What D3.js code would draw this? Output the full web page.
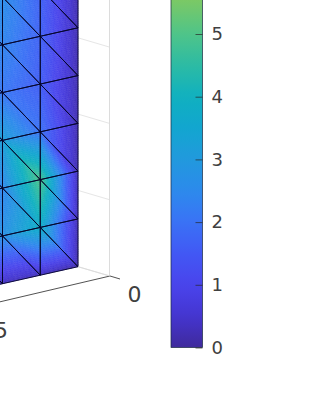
<!DOCTYPE html>
<html>
<head>
<meta charset="utf-8">
<script src="https://cdn.jsdelivr.net/npm/d3@7"></script>
<style>
html, body { margin: 0; padding: 0; background: #fff; }
svg { display: block; font-family: "DejaVu Sans", sans-serif; }
</style>
</head>
<body>
<svg width="315" height="420"></svg>
<script>
// node values, bottom row first, one list per mesh column (left to right)
var col0 = [0.2, 2.6, 2.6, 2.6, 2.6, 2.6, 2.6],
    col1 = [0.3, 2.7, 2.4, 3.2, 2.1, 2.4, 2.6],
    col2 = [0.3, 3.8, 5.0, 2.0, 1.6, 1.7, 1.7],
    col3 = [0.1, 0.2, 0.2, 0.2, 0.2, 0.2, 0.2];
var columns = [col0, col1, col2, col3];

var zTicks = [0, 1, 2, 3];
var cbTicks = [0, 1, 2, 3, 4, 5];
var xLabels = ["0", "5"];

// colour map
var mapValues = [0, 0.5, 1, 1.5, 2, 2.5, 3, 3.5, 4, 4.5, 5, 5.55];
var mapColors = ["#3f2a9c", "#4435d0", "#4a44ec", "#4258f4", "#3a72f6", "#2c8aec",
                 "#2199dd", "#12a6d0", "#10b0c0", "#2cbba4", "#4fc489", "#7cc964"];

var svg = d3.select("svg");

var color = d3.scaleLinear().domain(mapValues).range(mapColors).clamp(true);

// oblique projection of the mesh
var xMesh = d3.scaleLinear().domain([0, 3]).range([-35.25, 78]);
var yMesh = d3.scaleLinear().domain([0, 6]).range([266.7, -20]);
var skew = d3.scaleLinear().domain([0, 3]).range([25.5, 0]);

function px(c) { return xMesh(c); }
function py(c, r) { return yMesh(r) + skew(c); }
function val(c, r) { return columns[c][r]; }

var triangles = [];
d3.range(3).forEach(function(c) {
    d3.range(6).forEach(function(r) {
        triangles.push([[c, r + 1], [c + 1, r], [c, r]]);
        triangles.push([[c, r + 1], [c + 1, r + 1], [c + 1, r]]);
    });
});

// back wall
var back = svg.append("g");
zTicks.forEach(function(t) {
    back.append("line")
        .attr("x1", 78).attr("y1", 266.7 - t * 76.3)
        .attr("x2", 109.5).attr("y2", 276 - t * 76.3)
        .attr("stroke", "#e6e6e6").attr("stroke-width", 1);
});
back.append("line")
    .attr("x1", 109.5).attr("y1", 0).attr("x2", 109.5).attr("y2", 276)
    .attr("stroke", "#dcdcdc").attr("stroke-width", 1);

// shaded faces: every triangle is split into little ones and coloured by value
var n = 22;
var shade = svg.append("g");
triangles.forEach(function(t) {
    var a = t[0], b = t[1], d = t[2];
    function pt(u, v) {
        var w = 1 - u - v;
        return {
            x: u * px(a[0]) + v * px(b[0]) + w * px(d[0]),
            y: u * py(a[0], a[1]) + v * py(b[0], b[1]) + w * py(d[0], d[1]),
            z: u * val(a[0], a[1]) + v * val(b[0], b[1]) + w * val(d[0], d[1])
        };
    }
    function tri(p, q, s) {
        var c = color((p.z + q.z + s.z) / 3);
        shade.append("polygon")
            .attr("points", [p, q, s].map(function(o) { return o.x.toFixed(2) + "," + o.y.toFixed(2); }).join(" "))
            .attr("fill", c).attr("stroke", c).attr("stroke-width", 0.4);
    }
    for (var i = 0; i < n; i++) {
        for (var j = 0; j < n - i; j++) {
            tri(pt(i / n, j / n), pt((i + 1) / n, j / n), pt(i / n, (j + 1) / n));
            if (i + j < n - 1) {
                tri(pt((i + 1) / n, j / n), pt((i + 1) / n, (j + 1) / n), pt(i / n, (j + 1) / n));
            }
        }
    }
});

// mesh edges
var edges = svg.append("g").attr("fill", "none").attr("stroke", "#05052a").attr("stroke-width", 0.9);
triangles.forEach(function(t) {
    edges.append("path")
        .attr("d", d3.line().x(function(o) { return px(o[0]); }).y(function(o) { return py(o[0], o[1]); })(t.concat([t[0]])));
});

// floor axis
svg.append("line")
    .attr("x1", -5).attr("y1", 303).attr("x2", 110).attr("y2", 276)
    .attr("stroke", "#262626").attr("stroke-width", 0.8);
svg.append("line")
    .attr("x1", 110).attr("y1", 276).attr("x2", 120).attr("y2", 279)
    .attr("stroke", "#262626").attr("stroke-width", 0.8);
svg.append("line")
    .attr("x1", 78).attr("y1", 266.7).attr("x2", 110).attr("y2", 276)
    .attr("stroke", "#dcdcdc").attr("stroke-width", 1);

svg.selectAll(".xlab").data(xLabels).enter().append("text")
    .attr("class", "xlab")
    .attr("x", function(d, i) { return i ? 1 : 134.5; })
    .attr("y", function(d, i) { return i ? 338 : 302; })
    .attr("text-anchor", "middle")
    .attr("font-size", 22)
    .attr("fill", "#404040")
    .text(function(d) { return d; });

// colorbar
var yBar = d3.scaleLinear().domain([0, 5]).range([347.5, 34]);
var barTop = yBar.invert(-1);
var defs = svg.append("defs");
var grad = defs.append("linearGradient")
    .attr("id", "cb").attr("x1", 0).attr("y1", 1).attr("x2", 0).attr("y2", 0);
d3.range(0, 31).forEach(function(i) {
    grad.append("stop").attr("offset", i / 30).attr("stop-color", color(i / 30 * barTop));
});
svg.append("rect")
    .attr("x", 171).attr("y", -1)
    .attr("width", 31.5).attr("height", 348.5)
    .attr("fill", "url(#cb)")
    .attr("stroke", "#1a2a40").attr("stroke-width", 0.7);

var cbAxis = svg.append("g")
    .attr("transform", "translate(202.5,0)")
    .call(d3.axisRight(yBar).tickValues(cbTicks).tickSize(-7).tickFormat(d3.format("d")));
cbAxis.select(".domain").remove();
cbAxis.selectAll("line").attr("stroke", "#262626").attr("stroke-width", 0.7);
cbAxis.selectAll("text")
    .attr("x", 9)
    .attr("font-size", 18)
    .attr("font-family", "DejaVu Sans")
    .attr("fill", "#404040");
</script>
</body>
</html>
